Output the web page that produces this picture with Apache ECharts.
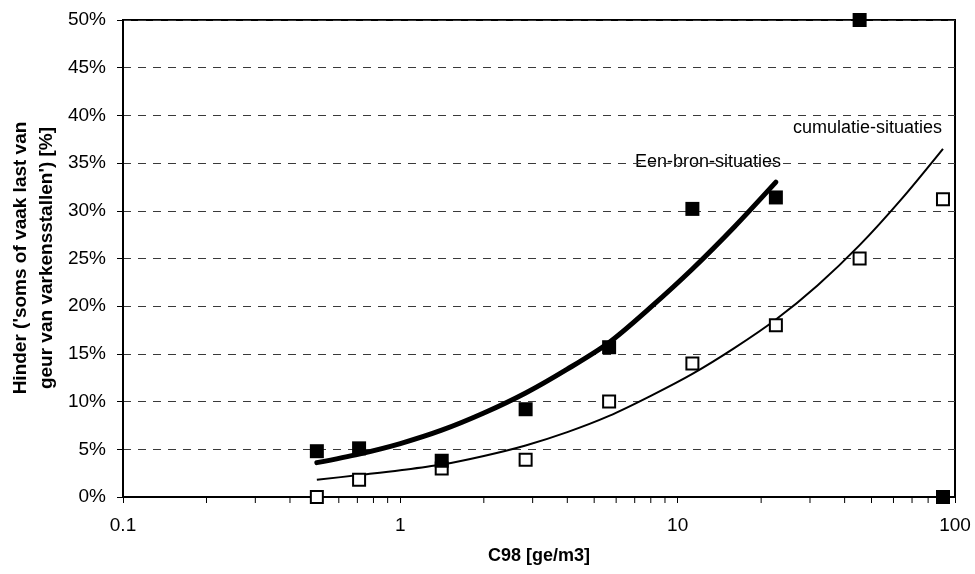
<!DOCTYPE html>
<html>
<head>
<meta charset="utf-8">
<title>Hinder versus C98</title>
<script src="https://cdn.jsdelivr.net/npm/echarts@6/dist/echarts.min.js"></script>
<style>
  html, body { margin: 0; padding: 0; background: #fff; }
  #chart { width: 975px; height: 574px; }
</style>
</head>
<body>
<div id="chart"></div>
<script>
// Odour concentration C98 [ge/m3] of the measured classes
const concentrations = [0.5, 0.71, 1.41, 2.83, 5.66, 11.3, 22.6, 45.3, 90.5];

// Share annoyed [%], single-source situations (filled squares)
const eenBronValues = [4.8, 5.1, 3.8, 9.2, 15.7, 30.2, 31.4, 50.0, 0.0];
// Share annoyed [%], cumulative situations (open squares)
const cumulatieValues = [0.0, 1.8, 3.0, 3.9, 10.0, 14.0, 18.0, 25.0, 31.2];

// Trend curve, single-source situations
const eenBronTrendX = [0.5, 0.71, 1.0, 1.41, 2.0, 2.83, 4.0, 5.66, 8.0, 11.3, 16.0, 22.6];
const eenBronTrendY = [3.6, 4.5, 5.6, 7.0, 8.8, 10.9, 13.4, 16.2, 19.9, 23.9, 28.3, 33.0];
// Trend curve, cumulative situations
const cumulatieTrendX = [0.5, 0.71, 1.0, 1.41, 2.0, 2.83, 4.0, 5.66, 8.0, 11.3, 16.0, 22.6, 32.0, 45.3, 64.0, 90.5];
const cumulatieTrendY = [1.8, 2.3, 2.8, 3.4, 4.3, 5.4, 6.8, 8.5, 10.6, 12.9, 15.6, 18.6, 22.2, 26.4, 31.2, 36.5];

// Minor tick positions on the logarithmic x axis
const minorTicks = [0.2, 0.3, 0.4, 0.5, 0.6, 0.7, 0.8, 0.9,
                    2, 3, 4, 5, 6, 7, 8, 9,
                    20, 30, 40, 50, 60, 70, 80, 90];

const seriesLabels = ['Een-bron-situaties', 'cumulatie-situaties'];
const xTitle = 'C98 [ge/m3]';
const yTitle = "Hinder ('soms of vaak last van\ngeur van varkensstallen') [%]";

const FONT = '"Liberation Sans", Arial, Helvetica, sans-serif';

const zip = (xs, ys) => xs.map((x, i) => [x, ys[i]]);

const chart = echarts.init(document.getElementById('chart'), null, { renderer: 'canvas' });

chart.setOption({
  animation: false,
  backgroundColor: '#fff',
  grid: {
    left: 123, right: 20, top: 20, bottom: 77,
    show: true, borderColor: '#000', borderWidth: 2, backgroundColor: 'transparent'
  },
  xAxis: {
    type: 'log', logBase: 10, min: 0.1, max: 100,
    name: xTitle, nameLocation: 'middle', nameGap: 50,
    nameTextStyle: { fontFamily: FONT, fontSize: 18, fontWeight: 'bold', color: '#000' },
    axisLine: { show: true, lineStyle: { color: '#000', width: 2 } },
    axisTick: { show: true, inside: false, length: 6, lineStyle: { color: '#000', width: 1 } },
    axisLabel: {
      margin: 19, fontFamily: FONT, fontSize: 19, color: '#000',
      formatter: v => String(+Number(v).toPrecision(3))
    },
    splitLine: { show: false },
    minorTick: { show: false }
  },
  yAxis: {
    type: 'value', min: 0, max: 50, interval: 5,
    axisLine: { show: true, lineStyle: { color: '#000', width: 2 } },
    axisTick: { show: true, inside: false, length: 6, lineStyle: { color: '#000', width: 1 } },
    axisLabel: { margin: 17, fontFamily: FONT, fontSize: 19, color: '#000', formatter: '{value}%' },
    splitLine: { show: true, lineStyle: { color: '#3a3a3a', width: 1, type: [8, 7] } }
  },
  graphic: [
    {
      type: 'text', x: 34, y: 258, rotation: Math.PI / 2,
      style: {
        text: yTitle, fill: '#000', font: 'bold 19px ' + FONT,
        align: 'center', verticalAlign: 'middle', lineHeight: 26
      }
    },
    {
      type: 'text', x: 635, y: 162,
      style: { text: seriesLabels[0], fill: '#000', font: '18px ' + FONT, align: 'left', verticalAlign: 'middle' }
    },
    {
      type: 'text', x: 793, y: 128,
      style: { text: seriesLabels[1], fill: '#000', font: '18px ' + FONT, align: 'left', verticalAlign: 'middle' }
    }
  ],
  series: [
    {
      // minor ticks below the x axis
      type: 'custom', silent: true, clip: false, z: 1,
      data: minorTicks.map(v => [v, 0]),
      encode: { x: 0, y: 1 },
      renderItem: (params, api) => {
        const p = api.coord([api.value(0), api.value(1)]);
        return {
          type: 'line',
          shape: { x1: p[0], y1: p[1] + 1, x2: p[0], y2: p[1] + 6 },
          style: { stroke: '#000', lineWidth: 1 }
        };
      }
    },
    {
      name: seriesLabels[1] + ' trend', type: 'line', smooth: 0.3, showSymbol: false,
      data: zip(cumulatieTrendX, cumulatieTrendY),
      lineStyle: { color: '#000', width: 2 }, z: 2, silent: true
    },
    {
      name: seriesLabels[0] + ' trend', type: 'line', smooth: 0.3, showSymbol: false,
      data: zip(eenBronTrendX, eenBronTrendY),
      lineStyle: { color: '#000', width: 5, cap: 'round' }, z: 2, silent: true
    },
    {
      name: seriesLabels[1], type: 'scatter', symbol: 'rect', symbolSize: 12, clip: false,
      data: zip(concentrations, cumulatieValues),
      itemStyle: { color: '#fff', borderColor: '#000', borderWidth: 2, opacity: 1 }, z: 3
    },
    {
      name: seriesLabels[0], type: 'scatter', symbol: 'rect', symbolSize: 14, clip: false,
      data: zip(concentrations, eenBronValues),
      itemStyle: { color: '#000', opacity: 1 }, z: 4
    }
  ]
});
</script>
</body>
</html>
